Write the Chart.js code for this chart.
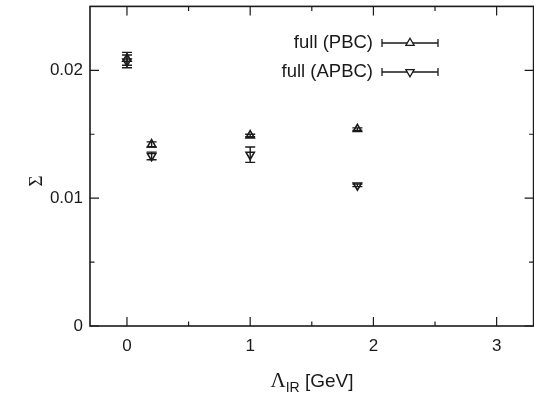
<!DOCTYPE html>
<html>
<head>
<meta charset="utf-8">
<title>Sigma vs Lambda_IR</title>
<script src="https://cdn.jsdelivr.net/npm/chart.js@4.4.1/dist/chart.umd.min.js"></script>
<style>
  html, body { margin: 0; padding: 0; background: #fff; overflow: hidden; }
  #wrap { width: 540px; height: 394px; }
</style>
</head>
<body>
<div id="wrap"><canvas id="sigmaChart" width="540" height="394"></canvas></div>
<script>
// data
const lambdaIR = [0, 0.2, 1.0, 1.87];
const sigmaPBC = [0.0209, 0.0142, 0.0149, 0.0154];
const errPBC = [0.0005, 0.0002, 0.0001, 0.0001];
const sigmaAPBC = [0.0207, 0.0133, 0.0134, 0.0110];
const errAPBC = [0.0005, 0.0003, 0.0006, 0.0001];
const seriesLabels = ["full (PBC)", "full (APBC)"];
const errors = [errPBC, errAPBC];

// ticks: labelled majors, unlabelled minors
const xMajor = [0, 1, 2, 3];
const xMinor = [0.5, 1.5, 2.5];
const xTickLabels = ["0", "1", "2", "3"];
const yMajor = [0, 0.01, 0.02];
const yMinor = [0.005, 0.015];
const yTickLabels = ["0", "0.01", "0.02"];

const INK = "#1a1a1a";
const SANS = "'Liberation Sans', Arial, sans-serif";
const SERIF = "'Liberation Serif', 'DejaVu Serif', serif";

function toPoints(xs, ys) {
  return xs.map((x, i) => ({ x: x, y: ys[i] }));
}

// error bars, frame, inward ticks, labels and the legend
const gnuplotLook = {
  id: "gnuplotLook",
  beforeDatasetsDraw(chart) {
    const ctx = chart.ctx;
    const xs = chart.scales.x, ys = chart.scales.y;
    ctx.save();
    ctx.strokeStyle = INK;
    ctx.lineWidth = 1.4;
    chart.data.datasets.forEach((ds, di) => {
      ds.data.forEach((p, i) => {
        const e = errors[di][i];
        const px = xs.getPixelForValue(p.x);
        const y1 = ys.getPixelForValue(p.y + e);
        const y2 = ys.getPixelForValue(p.y - e);
        ctx.beginPath();
        ctx.moveTo(px, y1); ctx.lineTo(px, y2);
        ctx.moveTo(px - 5, y1); ctx.lineTo(px + 5, y1);
        ctx.moveTo(px - 5, y2); ctx.lineTo(px + 5, y2);
        ctx.stroke();
      });
    });
    ctx.restore();
  },
  afterDraw(chart) {
    const ctx = chart.ctx;
    const a = chart.chartArea;
    const xs = chart.scales.x, ys = chart.scales.y;
    ctx.save();
    ctx.strokeStyle = INK;
    ctx.fillStyle = INK;

    // frame
    ctx.lineWidth = 1.6;
    ctx.strokeRect(a.left, a.top, a.right - a.left, a.bottom - a.top);

    // x ticks
    ctx.lineWidth = 1.2;
    ctx.font = "17px " + SANS;
    ctx.textAlign = "center";
    ctx.textBaseline = "middle";
    const xTick = (v, len) => {
      const px = xs.getPixelForValue(v);
      ctx.beginPath();
      ctx.moveTo(px, a.bottom); ctx.lineTo(px, a.bottom - len);
      ctx.moveTo(px, a.top); ctx.lineTo(px, a.top + len);
      ctx.stroke();
      return px;
    };
    xMinor.forEach(v => xTick(v, 4.5));
    xMajor.forEach((v, i) => {
      const px = xTick(v, 9);
      ctx.fillText(xTickLabels[i], px, a.bottom + 20);
    });

    // y ticks
    ctx.textAlign = "right";
    const yTick = (v, len) => {
      const py = ys.getPixelForValue(v);
      ctx.beginPath();
      ctx.moveTo(a.left, py); ctx.lineTo(a.left + len, py);
      ctx.moveTo(a.right, py); ctx.lineTo(a.right - len, py);
      ctx.stroke();
      return py;
    };
    yMinor.forEach(v => yTick(v, 4.5));
    yMajor.forEach((v, i) => {
      const py = yTick(v, 9);
      ctx.fillText(yTickLabels[i], a.left - 7, py);
    });

    // y title (rotated)
    ctx.save();
    ctx.translate(37, 181);
    ctx.rotate(-Math.PI / 2);
    ctx.textAlign = "center";
    ctx.textBaseline = "middle";
    ctx.font = "19px " + SERIF;
    ctx.fillText("Σ", 0, 0);
    ctx.restore();

    // x title: Λ_IR [GeV]
    ctx.textAlign = "left";
    ctx.textBaseline = "alphabetic";
    const fBig = "19px " + SANS, fSym = "21px " + SERIF, fSub = "14px " + SANS;
    ctx.font = fSym; const w1 = ctx.measureText("Λ").width;
    ctx.font = fSub; const w2 = ctx.measureText("IR").width;
    ctx.font = fBig; const w3 = ctx.measureText(" [GeV]").width;
    let tx = 312 - (w1 + w2 + w3) / 2;
    const base = 387;
    ctx.font = fSym; ctx.fillText("Λ", tx, base); tx += w1;
    ctx.font = fSub; ctx.fillText("IR", tx, base + 5); tx += w2;
    ctx.font = fBig; ctx.fillText(" [GeV]", tx, base);

    // legend
    ctx.font = "18.5px " + SANS;
    ctx.textAlign = "right";
    ctx.textBaseline = "middle";
    const rows = [43, 72];
    chart.data.datasets.forEach((ds, di) => {
      const ly = rows[di];
      ctx.fillText(seriesLabels[di], 373, ly);
      ctx.lineWidth = 1.3;
      ctx.beginPath();
      ctx.moveTo(382, ly); ctx.lineTo(438, ly);
      ctx.moveTo(382, ly - 4); ctx.lineTo(382, ly + 4);
      ctx.moveTo(438, ly - 4); ctx.lineTo(438, ly + 4);
      ctx.stroke();
      ctx.fillStyle = "#fff";
      Chart.helpers.drawPoint(ctx, {
        pointStyle: "triangle",
        radius: ds.pointRadius,
        rotation: ds.pointRotation || 0,
        borderWidth: ds.borderWidth
      }, 410, ly);
      ctx.fillStyle = INK;
    });
    ctx.restore();
  }
};

new Chart(document.getElementById("sigmaChart"), {
  type: "scatter",
  data: {
    datasets: [
      {
        label: seriesLabels[0],
        data: toPoints(lambdaIR, sigmaPBC),
        pointStyle: "triangle",
        pointRadius: 4.8,
        pointRotation: 0,
        borderWidth: 1.6,
        borderColor: INK,
        backgroundColor: "rgba(0,0,0,0)"
      },
      {
        label: seriesLabels[1],
        data: toPoints(lambdaIR, sigmaAPBC),
        pointStyle: "triangle",
        pointRadius: 4.8,
        pointRotation: 180,
        borderWidth: 1.6,
        borderColor: INK,
        backgroundColor: "rgba(0,0,0,0)"
      }
    ]
  },
  options: {
    responsive: false,
    animation: false,
    devicePixelRatio: 1,
    layout: { padding: { left: 90, top: 6, right: 2, bottom: 68 } },
    plugins: { legend: { display: false }, tooltip: { enabled: false } },
    scales: {
      x: { type: "linear", min: -0.3, max: 3.3, display: false },
      y: { type: "linear", min: 0, max: 0.025, display: false }
    }
  },
  plugins: [gnuplotLook]
});
</script>
</body>
</html>
